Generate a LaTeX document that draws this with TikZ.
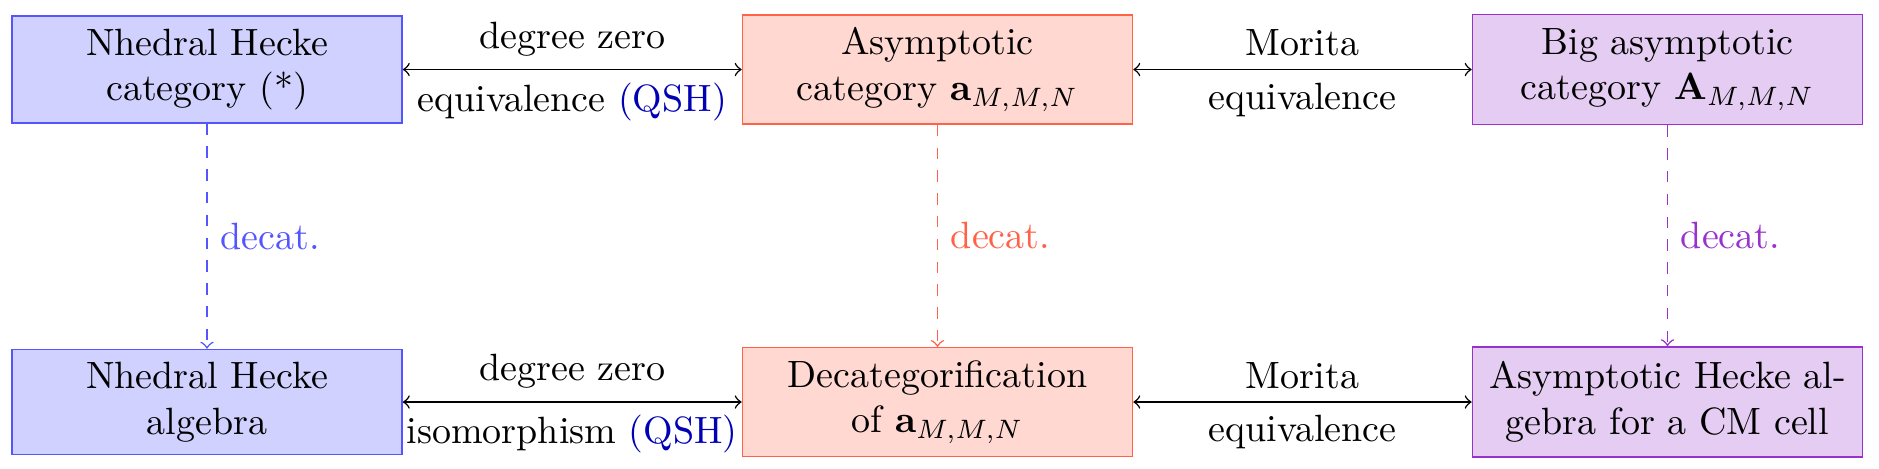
\documentclass[tikz,border=0pt]{standalone}
\definecolor{bbd}{RGB}{85,85,255}
\definecolor{bfill}{RGB}{209,209,255}
\definecolor{rbd}{RGB}{255,99,71}
\definecolor{rfill}{RGB}{255,216,210}
\definecolor{pbd}{RGB}{153,50,204}
\definecolor{pfill}{RGB}{228,204,242}
\definecolor{qsh}{RGB}{0,0,180}
\begin{document}
\begin{tikzpicture}[x=0.26316pt,y=-0.26316pt,
  box/.style={draw, text width=96pt, align=center, inner sep=3.33pt},
  bluebox/.style={box, draw=bbd, fill=bfill},
  redbox/.style={box, draw=rbd, fill=rfill},
  purplebox/.style={box, draw=pbd, fill=pfill, minimum height=29pt},
  eqarrow/.style={<->, black},
  decarrow/.style={->, dashed}]
\useasboundingbox (0,0) rectangle (1879,468);
\node[bluebox] (A1) at (207,69.5) {Nhedral Hecke\\category (*)};
\node[redbox] (B1) at (937.5,69.5) {Asymptotic\\category $\mathbf{a}_{M,M,N}$};
\node[purplebox] (C1) at (1667.5,69.5) {Big asymptotic\\category $\mathbf{A}_{M,M,N}$};
\node[bluebox] (A2) at (207,402) {Nhedral Hecke\\algebra};
\node[redbox] (B2) at (937.5,402) {Decategorification\\of $\mathbf{a}_{M,M,N}$};
\node[purplebox] (C2) at (1667.5,402) {Asymptotic Hecke al-\\gebra for a CM cell};
\draw[eqarrow] (A1) -- node[above] (l1) {degree zero} node[below] (l2) {equivalence \textcolor{qsh}{(QSH)}} (B1);
\draw[eqarrow] (B1) -- node[above] (l3) {Morita} node[below] (l4) {equivalence} (C1);
\draw[eqarrow] (A2) -- node[above] (l5) {degree zero} node[below] (l6) {isomorphism \textcolor{qsh}{(QSH)}} (B2);
\draw[eqarrow] (B2) -- node[above] (l7) {Morita} node[below] (l8) {equivalence} (C2);
\draw[decarrow, bbd] (A1) -- node[right] (d1) {decat.} (A2);
\draw[decarrow, rbd] (B1) -- node[right] (d2) {decat.} (B2);
\draw[decarrow, pbd] (C1) -- node[right] (d3) {decat.} (C2);
\end{tikzpicture}
\end{document}
